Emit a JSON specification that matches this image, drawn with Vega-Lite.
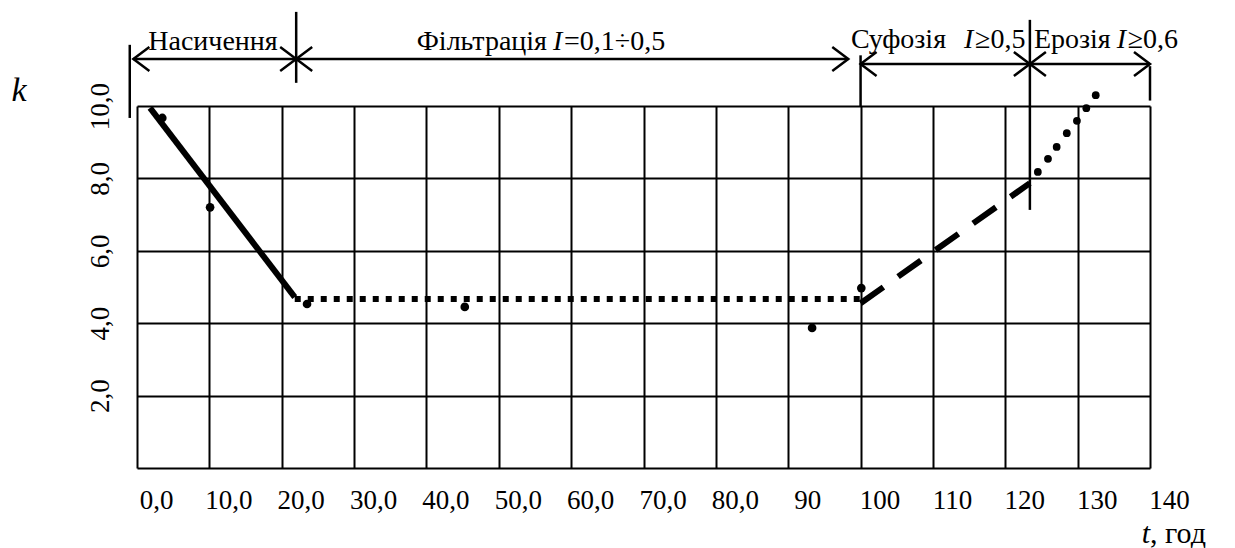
{
  "$schema": "https://vega.github.io/schema/vega-lite/v6.json",
  "width": 1013,
  "height": 362,
  "autosize": {"type": "none"},
  "padding": {"left": 137, "top": 106, "right": 85, "bottom": 80},
  "background": "white",
  "config": {"view": {"stroke": null}, "font": "Liberation Serif"},
  "datasets": {
    "measured": [
      {"t": 3.5, "k": 9.67},
      {"t": 10.1, "k": 7.2},
      {"t": 23.5, "k": 4.53},
      {"t": 45.3, "k": 4.45},
      {"t": 93.3, "k": 3.87},
      {"t": 100.1, "k": 4.97}
    ],
    "saturation": [{"t": 1.8, "k": 9.95}, {"t": 21.8, "k": 4.72}],
    "filtration": [{"t": 21.8, "k": 4.67}, {"t": 100, "k": 4.67}],
    "suffosion": [{"t": 100, "k": 4.55}, {"t": 123.4, "k": 7.87}],
    "erosion": [
      {"t": 124.5, "k": 8.18},
      {"t": 125.9, "k": 8.54},
      {"t": 127.1, "k": 8.87},
      {"t": 128.5, "k": 9.25},
      {"t": 129.9, "k": 9.59},
      {"t": 131.2, "k": 9.94},
      {"t": 132.5, "k": 10.3}
    ],
    "rules": [
      {"t": -0.5, "k": 11.3, "t2": 22.0, "k2": 11.3},
      {"t": 22.0, "k": 11.3, "t2": 98.3, "k2": 11.3},
      {"t": 100, "k": 11.16, "t2": 123.4, "k2": 11.16},
      {"t": 123.4, "k": 11.16, "t2": 140, "k2": 11.16},
      {"t": -1.0, "k": 11.69, "t2": -1.0, "k2": 9.67},
      {"t": 22.0, "k": 12.6, "t2": 22.0, "k2": 10.64},
      {"t": 100, "k": 11.4, "t2": 100, "k2": 10},
      {"t": 123.4, "k": 12.38, "t2": 123.4, "k2": 7.13},
      {"t": 140, "k": 11.1, "t2": 140, "k2": 10.15}
    ],
    "arrowLeft": [
      {"t": -0.5, "k": 11.3},
      {"t": 22.0, "k": 11.3},
      {"t": 100, "k": 11.16},
      {"t": 123.4, "k": 11.16}
    ],
    "arrowRight": [
      {"t": 22.0, "k": 11.3},
      {"t": 98.3, "k": 11.3},
      {"t": 123.4, "k": 11.16},
      {"t": 140, "k": 11.16}
    ],
    "stagePlain": [
      {"t": 10.5, "k": 11.55, "label": "Насичення"}
    ],
    "stages": [
      {"t": 57.49, "k": 11.55, "pre": "Фільтрація", "ital": "I", "post": "=0,1÷0,5"},
      {"t": 114.3, "k": 11.6, "pre": "Суфозія", "ital": "I", "post": "≥0,5"},
      {"t": 135.4, "k": 11.6, "pre": "Ерозія", "ital": "I", "post": "≥0,6"}
    ],
    "ytitle": [{"t": -16.3, "k": 10.15, "label": "k"}],
    "xtitleItalic": [{"t": 140.0, "k": -2.07, "label": "t"}],
    "xtitle": [{"t": 140.0, "k": -2.07, "label": ", год"}]
  },
  "encoding": {
    "x": {
      "field": "t",
      "type": "quantitative",
      "scale": {"domain": [0, 140], "nice": false, "zero": false},
      "axis": {
        "values": [0, 10, 20, 30, 40, 50, 60, 70, 80, 90, 100, 110, 120, 130, 140],
        "grid": true,
        "gridColor": "black",
        "gridOpacity": 1,
        "gridWidth": 2,
        "ticks": false,
        "tickSize": 0,
        "domain": false,
        "title": null,
        "labelExpr": "datum.value < 90 ? datum.value + ',0' : '' + datum.value",
        "labelFont": "Liberation Serif",
        "labelFontSize": 27,
        "labelColor": "black",
        "labelPadding": 19,
        "labelOffset": 19,
        "labelFlush": false,
        "labelOverlap": false
      }
    },
    "y": {
      "field": "k",
      "type": "quantitative",
      "scale": {"domain": [0, 10], "nice": false, "zero": false},
      "axis": {
        "values": [0, 2, 4, 6, 8, 10],
        "grid": true,
        "gridColor": "black",
        "gridOpacity": 1,
        "gridWidth": 2,
        "ticks": false,
        "tickSize": 0,
        "domain": false,
        "title": null,
        "labelExpr": "datum.value == 0 ? '' : datum.value + ',0'",
        "labelFont": "Liberation Serif",
        "labelFontSize": 27,
        "labelColor": "black",
        "labelAngle": 270,
        "labelAlign": "center",
        "labelBaseline": "middle",
        "labelPadding": 37,
        "labelFlush": false,
        "labelOverlap": false
      }
    }
  },
  "layer": [
    {
      "data": {"name": "saturation"},
      "mark": {"type": "line", "color": "black", "strokeWidth": 6},
      "encoding": {}
    },
    {
      "data": {"name": "filtration"},
      "mark": {"type": "line", "color": "black", "strokeWidth": 6, "strokeDash": [6, 7]},
      "encoding": {}
    },
    {
      "data": {"name": "suffosion"},
      "mark": {"type": "line", "color": "black", "strokeWidth": 6, "strokeDash": [28, 18]},
      "encoding": {}
    },
    {
      "data": {"name": "erosion"},
      "mark": {"type": "point", "filled": true, "size": 60, "color": "black", "opacity": 1},
      "encoding": {}
    },
    {
      "data": {"name": "measured"},
      "mark": {"type": "point", "filled": true, "size": 75, "color": "black", "opacity": 1},
      "encoding": {}
    },
    {
      "data": {"name": "rules"},
      "mark": {"type": "rule", "color": "black", "strokeWidth": 2.5},
      "encoding": {
        "x2": {"field": "t2"},
        "y2": {"field": "k2"}
      }
    },
    {
      "data": {"name": "arrowLeft"},
      "mark": {"type": "point", "shape": "M1.6,-1.2L0,0L1.6,1.2", "size": 400, "filled": false, "color": "black", "strokeWidth": 2.5, "opacity": 1},
      "encoding": {}
    },
    {
      "data": {"name": "arrowRight"},
      "mark": {"type": "point", "shape": "M-1.6,-1.2L0,0L-1.6,1.2", "size": 400, "filled": false, "color": "black", "strokeWidth": 2.5, "opacity": 1},
      "encoding": {}
    },
    {
      "data": {"name": "stagePlain"},
      "mark": {"type": "text", "font": "Liberation Serif", "fontSize": 28, "color": "black", "align": "center", "baseline": "alphabetic"},
      "encoding": {"text": {"field": "label"}}
    },
    {
      "data": {"name": "stages"},
      "transform": [{"filter": "datum.pre == 'Суфозія'"}],
      "mark": {"type": "text", "font": "Liberation Serif", "fontSize": 28, "color": "black", "align": "right", "baseline": "alphabetic", "dx": -18},
      "encoding": {"text": {"field": "pre"}}
    },
    {
      "data": {"name": "stages"},
      "transform": [{"filter": "datum.pre != 'Суфозія'"}],
      "mark": {"type": "text", "font": "Liberation Serif", "fontSize": 28, "color": "black", "align": "right", "baseline": "alphabetic", "dx": -6},
      "encoding": {"text": {"field": "pre"}}
    },
    {
      "data": {"name": "stages"},
      "mark": {"type": "text", "font": "Liberation Serif", "fontSize": 28, "fontStyle": "italic", "color": "black", "align": "left", "baseline": "alphabetic"},
      "encoding": {"text": {"field": "ital"}}
    },
    {
      "data": {"name": "stages"},
      "mark": {"type": "text", "font": "Liberation Serif", "fontSize": 28, "color": "black", "align": "left", "baseline": "alphabetic", "dx": 11},
      "encoding": {"text": {"field": "post"}}
    },
    {
      "data": {"name": "ytitle"},
      "mark": {"type": "text", "font": "Liberation Serif", "fontSize": 34, "fontStyle": "italic", "color": "black", "align": "center", "baseline": "alphabetic"},
      "encoding": {"text": {"field": "label"}}
    },
    {
      "data": {"name": "xtitleItalic"},
      "mark": {"type": "text", "font": "Liberation Serif", "fontSize": 30, "fontStyle": "italic", "color": "black", "align": "right", "baseline": "alphabetic"},
      "encoding": {"text": {"field": "label"}}
    },
    {
      "data": {"name": "xtitle"},
      "mark": {"type": "text", "font": "Liberation Serif", "fontSize": 30, "color": "black", "align": "left", "baseline": "alphabetic"},
      "encoding": {"text": {"field": "label"}}
    }
  ]
}
